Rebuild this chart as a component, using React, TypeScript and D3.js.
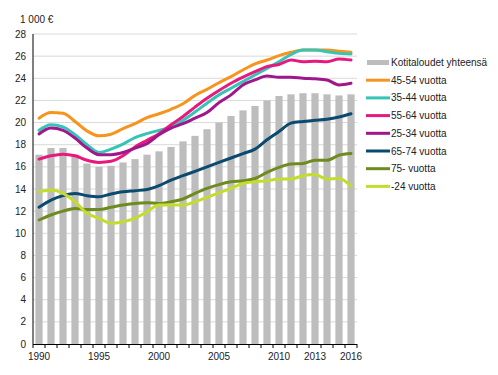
import React from "react";
import * as d3 from "d3";

const years = d3.range(1990, 2017);
const xTickLabels = [1990, 1995, 2000, 2005, 2010, 2013, 2016];
const yTicks = d3.range(0, 29, 2);

const totalName = "Kotitaloudet yhteensä";
const totalValues = [17.1, 17.7, 17.7, 17.1, 16.3, 16.0, 16.1, 16.4, 16.7, 17.1, 17.4, 17.8, 18.3, 18.8, 19.4, 20.0, 20.6, 21.1, 21.5, 22.0, 22.4, 22.55, 22.65, 22.65, 22.55, 22.45, 22.55];

const s4554 = [20.4, 20.9, 20.85, 20.1, 19.25, 18.8, 18.95, 19.45, 19.9, 20.45, 20.8, 21.2, 21.7, 22.45, 23.0, 23.6, 24.15, 24.75, 25.3, 25.65, 26.05, 26.35, 26.55, 26.55, 26.55, 26.45, 26.35];
const s3544 = [19.3, 19.8, 19.6, 18.9, 18.0, 17.3, 17.6, 18.05, 18.65, 19.0, 19.3, 19.6, 20.2, 20.95, 21.75, 22.5, 23.1, 23.7, 24.3, 24.9, 25.5, 26.15, 26.55, 26.55, 26.4, 26.25, 26.2];
const s5564 = [16.7, 17.0, 17.15, 17.0, 16.6, 16.4, 16.5, 17.0, 17.8, 18.4, 19.0, 19.8, 20.55, 21.4, 22.2, 22.9, 23.55, 24.1, 24.6, 25.05, 25.25, 25.65, 25.5, 25.55, 25.5, 25.75, 25.65];
const s2534 = [18.97, 19.5, 19.3, 18.6, 17.7, 17.1, 17.1, 17.3, 17.7, 18.1, 18.9, 19.5, 19.9, 20.4, 20.9, 21.8, 22.5, 23.4, 23.85, 24.2, 24.1, 24.1, 24.0, 23.95, 23.85, 23.4, 23.55];
const s6574 = [12.35, 13.0, 13.4, 13.6, 13.4, 13.3, 13.55, 13.75, 13.85, 13.95, 14.3, 14.8, 15.2, 15.6, 16.0, 16.4, 16.8, 17.2, 17.6, 18.45, 19.2, 19.95, 20.1, 20.2, 20.3, 20.5, 20.8];
const s75 = [11.2, 11.65, 12.0, 12.25, 12.15, 12.15, 12.35, 12.55, 12.7, 12.75, 12.7, 12.85, 13.1, 13.6, 14.05, 14.4, 14.65, 14.75, 14.95, 15.5, 15.95, 16.25, 16.3, 16.6, 16.6, 17.05, 17.2];
const s24 = [13.75, 13.9, 13.6, 12.85, 11.8, 11.35, 10.9, 11.05, 11.35, 11.95, 12.55, 12.55, 12.55, 12.85, 13.25, 13.65, 14.05, 14.5, 14.65, 14.75, 14.9, 14.9, 15.2, 15.3, 14.9, 14.95, 14.25];

const lineNames = ["45-54 vuotta", "35-44 vuotta", "55-64 vuotta", "25-34 vuotta", "65-74 vuotta", "75- vuotta", "-24 vuotta"];
const lineValues = [s4554, s3544, s5564, s2534, s6574, s75, s24];
const lineColors = ["#F7941E", "#35C4B5", "#E8197D", "#A0168C", "#0B4A6F", "#6E8B1D", "#C4DC2C"];

export default function App() {
  const W = 498, H = 375;
  const left = 33, right = 357, top = 34, bottom = 344;
  const x = d3.scaleBand<number>().domain(years).range([left, right]).paddingInner(0.4).paddingOuter(0.2);
  const y = d3.scaleLinear().domain([0, 28]).range([bottom, top]);
  const cx = (yr: number) => (x(yr) as number) + x.bandwidth() / 2;
  const line = d3.line<number>().x((_, i) => cx(years[i])).y((v) => y(v)).curve(d3.curveMonotoneX);
  const step = x.step();
  const font = "Liberation Sans, Arial, sans-serif";
  const legendX = 366;
  const legendY0 = 62.5;
  const legendDy = 17.7;

  return (
    <svg width={W} height={H} style={{ position: "absolute", left: 0, top: 0, background: "#fff" }} fontFamily={font} fontSize={10}>
      {/* gridlines */}
      {yTicks.filter((t) => t > 0).map((t) => (
        <line key={"g" + t} x1={left} x2={right} y1={y(t)} y2={y(t)} stroke="#d9d9d9" strokeWidth={1} />
      ))}
      {/* bars */}
      {years.map((yr, i) => (
        <rect key={"b" + yr} x={x(yr)} y={y(totalValues[i])} width={x.bandwidth()} height={bottom - y(totalValues[i])} fill="#bdbdbd" />
      ))}
      {/* lines */}
      {lineValues.map((vals, k) => (
        <path key={"l" + k} d={line(vals) || ""} fill="none" stroke={lineColors[k]} strokeWidth={3} strokeLinejoin="round" strokeLinecap="round" />
      ))}
      {/* axes */}
      <line x1={left} x2={left} y1={top} y2={bottom} stroke="#000" strokeWidth={1} />
      <line x1={left} x2={right} y1={bottom + 0.5} y2={bottom + 0.5} stroke="#000" strokeWidth={1} />
      {d3.range(0, years.length + 1).map((i) => (
        <line key={"t" + i} x1={left + i * step} x2={left + i * step} y1={bottom} y2={bottom + 4} stroke="#000" strokeWidth={1} />
      ))}
      {yTicks.map((t) => (
        <text key={"yl" + t} x={26} y={y(t)} dy="0.35em" textAnchor="end" fill="#222">{t}</text>
      ))}
      {xTickLabels.map((yr) => (
        <text key={"xl" + yr} x={cx(yr)} y={359.5} textAnchor="middle" fill="#222">{yr}</text>
      ))}
      <text x={20} y={22.5} fill="#222">1 000 €</text>
      {/* legend */}
      <rect x={367} y={legendY0 - 2.5} width={22} height={5} fill="#bdbdbd" />
      <text x={391} y={legendY0} dy="0.35em" fill="#222">{totalName}</text>
      {lineNames.map((n, k) => {
        const ly = legendY0 + (k + 1) * legendDy;
        return (
          <g key={"lg" + k}>
            <line x1={legendX} x2={legendX + 24} y1={ly} y2={ly} stroke={lineColors[k]} strokeWidth={3} />
            <text x={391} y={ly} dy="0.35em" fill="#222">{n}</text>
          </g>
        );
      })}
    </svg>
  );
}
